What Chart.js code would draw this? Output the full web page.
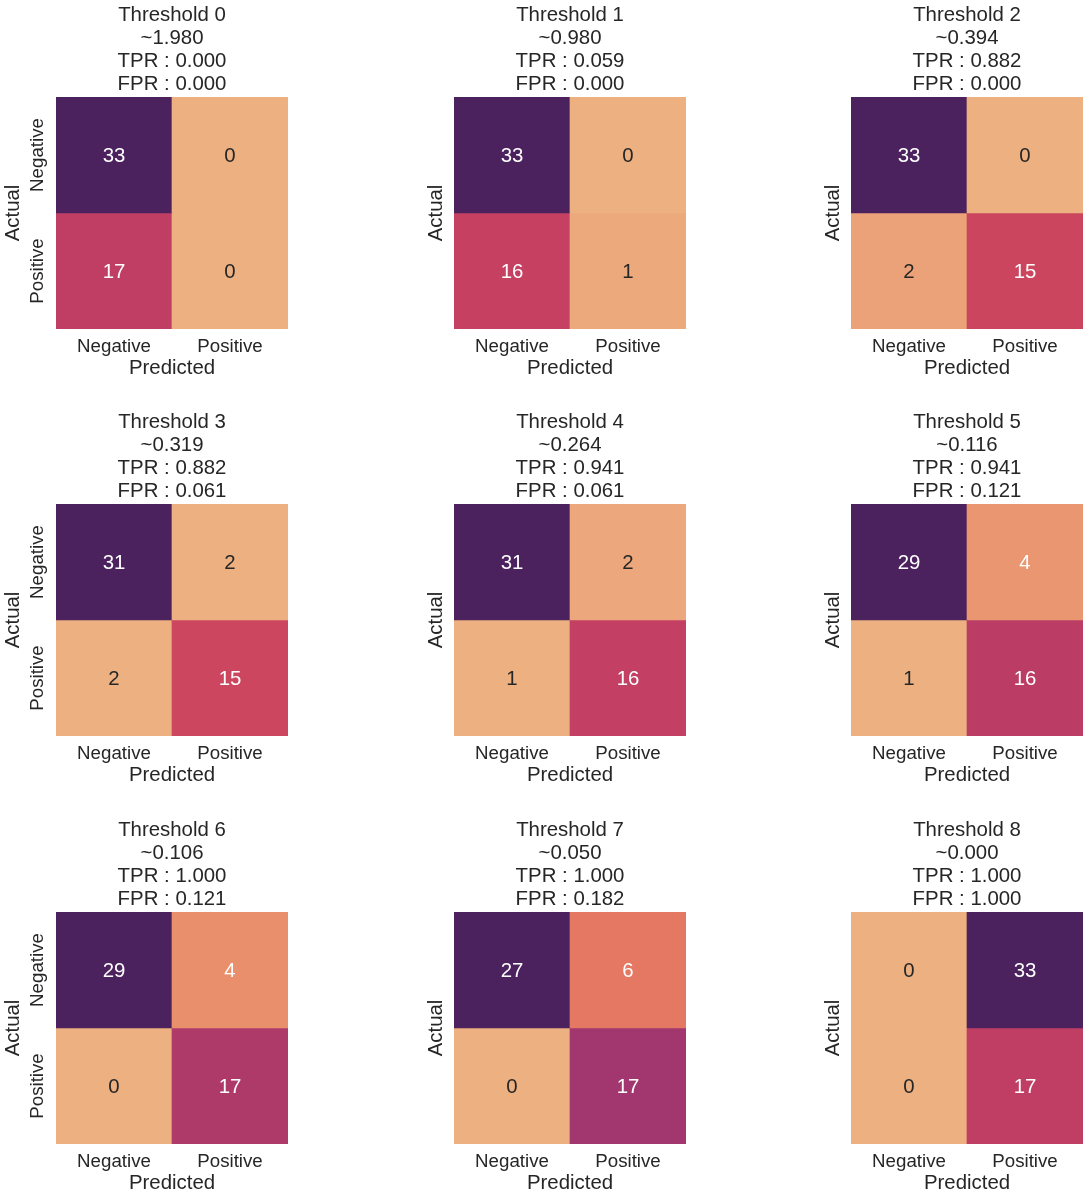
<!DOCTYPE html>
<html>
<head>
<meta charset="utf-8">
<script src="https://cdn.jsdelivr.net/npm/chart.js@4.4.1/dist/chart.umd.min.js"></script>
<style>
  html, body { margin: 0; padding: 0; background: #ffffff; }
  body { width: 1090px; height: 1200px; position: relative; overflow: hidden; }
  canvas { position: absolute; }
</style>
</head>
<body>
<script>
// ---- data ----
const thresholdValues = [1.980, 0.980, 0.394, 0.319, 0.264, 0.116, 0.106, 0.050, 0.000];
const tprValues = [0.000, 0.059, 0.882, 0.882, 0.941, 0.941, 1.000, 1.000, 1.000];
const fprValues = [0.000, 0.000, 0.000, 0.061, 0.061, 0.121, 0.121, 0.182, 1.000];
const trueNeg  = [33, 33, 33, 31, 31, 29, 29, 27, 0];
const falsePos = [0, 0, 0, 2, 2, 4, 4, 6, 33];
const falseNeg = [17, 16, 2, 2, 1, 1, 0, 0, 0];
const truePos  = [0, 1, 15, 15, 16, 16, 17, 17, 17];
const predictedLabels = ['Negative', 'Positive'];
const actualLabels = ['Negative', 'Positive'];

// ---- style ----
const TEXT = '#262626';
const FONT = "'Liberation Sans', Arial, Helvetica, sans-serif";
Chart.defaults.font.family = FONT;
Chart.defaults.color = TEXT;

// approx seaborn "flare" colormap
const flareStops = [
  [0.00, [237, 176, 129]],
  [0.06, [236, 162, 120]],
  [0.14, [233, 142, 107]],
  [0.22, [229, 121, 98]],
  [0.30, [224, 101, 90]],
  [0.40, [212, 79, 91]],
  [0.485, [198, 64, 98]],
  [0.515, [192, 62, 100]],
  [0.586, [174, 58, 106]],
  [0.63, [162, 55, 111]],
  [0.75, [127, 45, 116]],
  [0.875, [97, 37, 108]],
  [1.00, [75, 33, 94]]
];
function flare(t) {
  t = Math.max(0, Math.min(1, t));
  for (let i = 1; i < flareStops.length; i++) {
    const [t1, c1] = flareStops[i];
    const [t0, c0] = flareStops[i - 1];
    if (t <= t1) {
      const f = (t - t0) / (t1 - t0);
      return c0.map((v, k) => Math.round(v + (c1[k] - v) * f));
    }
  }
  return flareStops[flareStops.length - 1][1];
}
function lum(rgb) {
  const l = rgb.map(v => { v /= 255; return v <= 0.03928 ? v / 12.92 : Math.pow((v + 0.055) / 1.055, 2.4); });
  return 0.2126 * l[0] + 0.7152 * l[1] + 0.0722 * l[2];
}

const colLefts = [56, 453.5, 851];
const rowTop0 = 96.7, rowStep = 407.5;
const PLOT = 232, SIDE = 60, TITLE_H = 97, BOTTOM = 60;

const annotatePlugin = {
  id: 'annotate',
  afterDatasetsDraw(chart) {
    const ctx = chart.ctx;
    ctx.save();
    ctx.font = `20.4px ${FONT}`;
    ctx.textAlign = 'center';
    ctx.textBaseline = 'middle';
    chart.data.datasets.forEach((ds, di) => {
      const meta = chart.getDatasetMeta(di);
      meta.data.forEach((el, j) => {
        const p = el.getCenterPoint();
        ctx.fillStyle = ds.textColors[j];
        ctx.fillText(String(ds.values[j]), p.x, p.y + 1);
      });
    });
    ctx.restore();
  }
};
const yTickPlugin = {
  id: 'yTicksRot',
  afterDraw(chart) {
    if (!chart.options.plugins.yTicksRot.show) return;
    const ctx = chart.ctx;
    const y = chart.scales.y;
    ctx.save();
    ctx.font = `18.7px ${FONT}`;
    ctx.fillStyle = TEXT;
    ctx.textAlign = 'center';
    ctx.textBaseline = 'middle';
    actualLabels.forEach((lab, i) => {
      const py = y.getPixelForValue(i + 0.5);
      ctx.save();
      ctx.translate(chart.chartArea.left - 18.3, py);
      ctx.rotate(-Math.PI / 2);
      ctx.fillText(lab, 0, 0);
      ctx.restore();
    });
    ctx.restore();
  }
};

for (let i = 0; i < thresholdValues.length; i++) {
  const r = Math.floor(i / 3), c = i % 3;
  const plotLeft = colLefts[c];
  const plotTop = rowTop0 + r * rowStep;
  const canvas = document.createElement('canvas');
  const W = SIDE + PLOT + SIDE, H = TITLE_H + PLOT + BOTTOM;
  canvas.width = W; canvas.height = H;
  canvas.style.width = W + 'px'; canvas.style.height = H + 'px';
  canvas.style.left = (plotLeft - SIDE) + 'px';
  canvas.style.top = (plotTop - TITLE_H) + 'px';
  document.body.appendChild(canvas);

  const matrix = [[trueNeg[i], falsePos[i]], [falseNeg[i], truePos[i]]];
  const all = matrix.flat();
  const vmin = Math.min(...all), vmax = Math.max(...all);
  const datasets = actualLabels.map((lab, ri) => {
    const vals = matrix[ri];
    const cols = vals.map(v => flare(vmax === vmin ? 0 : (v - vmin) / (vmax - vmin)));
    return {
      label: lab,
      data: predictedLabels.map(() => [ri, ri + 1]),
      values: vals,
      backgroundColor: cols.map(c3 => `rgb(${c3[0]},${c3[1]},${c3[2]})`),
      textColors: cols.map(c3 => lum(c3) > 0.408 ? TEXT : '#ffffff'),
      borderWidth: 0,
      barPercentage: 1,
      categoryPercentage: 1,
      grouped: false,
      yAxisID: 'y'
    };
  });

  new Chart(canvas, {
    type: 'bar',
    data: { labels: predictedLabels, datasets },
    options: {
      responsive: false,
      animation: false,
      devicePixelRatio: 1,
      layout: { padding: 0 },
      scales: {
        x: {
          type: 'category',
          grid: { display: false, drawTicks: false },
          border: { display: false },
          ticks: { color: TEXT, font: { size: 18.7 }, padding: 6.5, maxRotation: 0 },
          title: { display: true, text: 'Predicted', color: TEXT, font: { size: 20.4 }, padding: 8.8 },
          afterFit: s => { s.height = BOTTOM; }
        },
        y: {
          type: 'linear', position: 'left', min: 0, max: actualLabels.length, reverse: true,
          grid: { display: false, drawTicks: false },
          border: { display: false },
          ticks: { display: false },
          title: { display: true, text: 'Actual', color: TEXT, font: { size: 20.4 }, padding: c === 0 ? 5.3 : 29.8 },
          afterFit: s => { s.width = SIDE; }
        },
        yRight: {
          type: 'linear', position: 'right', min: 0, max: actualLabels.length,
          grid: { display: false, drawTicks: false },
          border: { display: false },
          ticks: { display: false },
          afterFit: s => { s.width = SIDE; }
        }
      },
      plugins: {
        legend: { display: false },
        tooltip: { enabled: false },
        yTicksRot: { show: c === 0 },
        title: {
          display: true,
          text: [
            'Threshold ' + i,
            '~' + thresholdValues[i].toFixed(3),
            'TPR : ' + tprValues[i].toFixed(3),
            'FPR : ' + fprValues[i].toFixed(3)
          ],
          color: TEXT,
          font: { size: 20.4, weight: 'normal', lineHeight: 23 / 20.4 },
          padding: { top: 4, bottom: 1 }
        }
      }
    },
    plugins: [annotatePlugin, yTickPlugin]
  });
}
</script>
</body>
</html>
